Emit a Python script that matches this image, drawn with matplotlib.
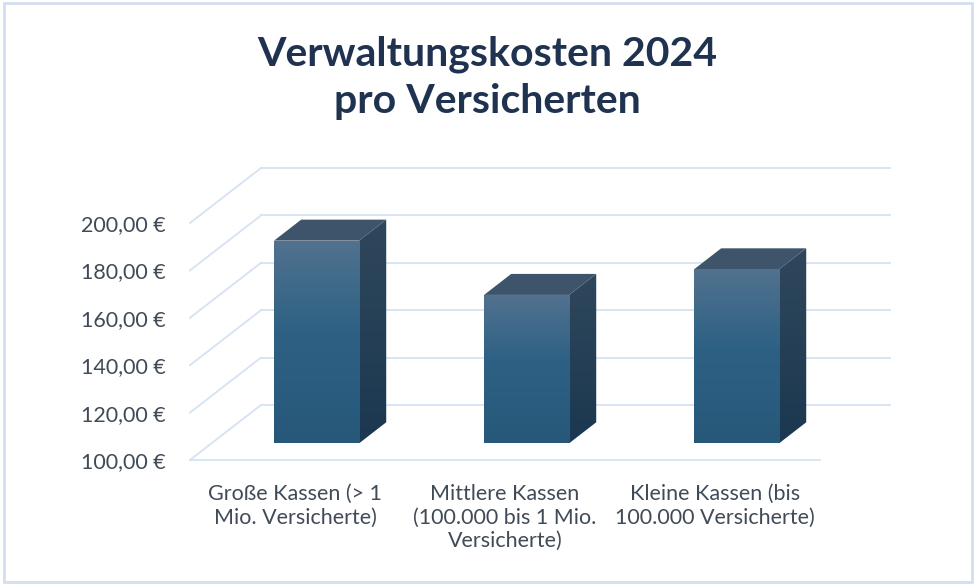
import numpy as np
import matplotlib
matplotlib.use("Agg")
import matplotlib.pyplot as plt
from matplotlib.patches import Polygon, Rectangle
from matplotlib.colors import LinearSegmentedColormap

# Chart data
categories = ["Große Kassen (> 1\nMio. Versicherte)",
              "Mittlere Kassen\n(100.000 bis 1 Mio.\nVersicherte)",
              "Kleine Kassen (bis\n100.000 Versicherte)"]
values = [185.5, 162.6, 173.4]
y_ticks = [100, 120, 140, 160, 180, 200]
title = "Verwaltungskosten 2024\npro Versicherten"

# Oblique "3D" projection: depth d in [0, 1] shifts points right and up
DX, DY = 0.338, 23.2
BASE = 100
BAR_W = 0.405
D_FRONT, D_BACK = 0.304, 0.686
GRID = "#d6e2f3"


def proj(x, v, d):
    return x + d * DX, v + d * DY


plt.rcParams["font.family"] = ["Lato", "DejaVu Sans"]
fig = plt.figure(figsize=(9.74, 5.84), dpi=100)
W, H = 974, 584

# axes placed so that data units map onto the reference pixel grid
px_l, px_r, px_t, px_b = 189, 891, 160, 470
ax = fig.add_axes([px_l / W, 1 - px_b / H, (px_r - px_l) / W, (px_b - px_t) / H])
for s in ax.spines.values():
    s.set_visible(False)

# walls and floor
x0, x1 = -0.5, 2.5
for v in y_ticks:
    a, b = proj(x0, v, 0), proj(x0, v, 1)
    ax.plot([a[0], b[0]], [a[1], b[1]], color=GRID, lw=1.3, zorder=1)
    a, b = proj(x0, v, 1), proj(x1, v, 1)
    ax.plot([a[0], b[0]], [a[1], b[1]], color=GRID, lw=1.3, zorder=1)
a, b = proj(x0, BASE, 0), proj(x1, BASE, 0)
ax.plot([a[0], b[0]], [a[1], b[1]], color=GRID, lw=1.3, zorder=1)

# bars
front_cmap = LinearSegmentedColormap.from_list(
    "front", [(0, "#27587a"), (0.55, "#2d6184"), (1, "#52728f")])
side_cmap = LinearSegmentedColormap.from_list(
    "side", [(0, "#1b3850"), (1, "#2f475c")])
grad = np.linspace(0, 1, 256).reshape(-1, 1)

for i, val in enumerate(values):
    xl, xr = i - BAR_W / 2, i + BAR_W / 2
    flb, frb = proj(xl, BASE, D_FRONT), proj(xr, BASE, D_FRONT)
    flt, frt = proj(xl, val, D_FRONT), proj(xr, val, D_FRONT)
    blt, brt = proj(xl, val, D_BACK), proj(xr, val, D_BACK)
    brb = proj(xr, BASE, D_BACK)

    # side face
    side = Polygon([frb, frt, brt, brb], closed=True, fc="none", ec="none", zorder=3)
    ax.add_patch(side)
    im = ax.imshow(grad, cmap=side_cmap, origin="lower", aspect="auto",
                   extent=[frb[0], brt[0], frb[1], brt[1]], zorder=3)
    im.set_clip_path(side)

    # top face
    ax.add_patch(Polygon([flt, frt, brt, blt], closed=True, fc="#3e546a",
                         ec="none", zorder=4))

    # front face
    front = Rectangle(flb, frb[0] - flb[0], flt[1] - flb[1], fc="none", ec="none", zorder=5)
    ax.add_patch(front)
    im = ax.imshow(grad, cmap=front_cmap, origin="lower", aspect="auto",
                   extent=[flb[0], frb[0], flb[1], flt[1]], zorder=5)
    im.set_clip_path(front)

ax.set_xlim((px_l - 295) / 210, (px_r - 295) / 210)
ax.set_ylim(BASE - (px_b - 460) / 2.37, BASE + (460 - px_t) / 2.37)

ax.set_yticks(y_ticks)
ax.set_yticklabels([f"{v:.2f}".replace(".", ",") + " €" for v in y_ticks])
ax.set_xticks(range(len(categories)))
ax.set_xticklabels(categories, linespacing=1.22)
ax.tick_params(axis="y", length=0, pad=17, labelsize=15.5, labelcolor="#404b57")
ax.tick_params(axis="x", length=0, pad=10, labelsize=15.5, labelcolor="#404b57")

fig.text(487 / W, 1 - 78 / H, title, ha="center", va="center", fontsize=29.5,
         fontweight="bold", color="#1f3350", linespacing=1.33)

# light frame around the chart
fig.patches.append(Rectangle((4 / W, 2 / H), 968 / W, 579 / H, transform=fig.transFigure,
                             fill=False, ec="#d3def0", lw=2))

fig.savefig("out.png", dpi=100)
